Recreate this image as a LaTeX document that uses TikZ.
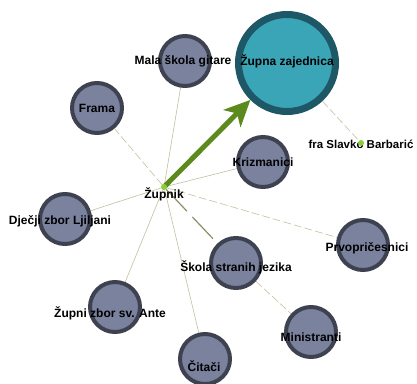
\documentclass[tikz,border=0pt]{standalone}
\usepackage{fontspec}
\setmainfont{Liberation Sans}
\usetikzlibrary{arrows.meta,backgrounds}

\definecolor{member}{RGB}{122,130,158}
\definecolor{memberrim}{RGB}{62,66,80}
\definecolor{parish}{RGB}{58,165,182}
\definecolor{parishrim}{RGB}{30,88,102}
\definecolor{leafgreen}{RGB}{140,204,58}
\definecolor{linkgreen}{RGB}{92,138,30}
\definecolor{linkgray}{RGB}{196,192,160}

\tikzset{
  group/.style={circle, draw=memberrim, fill=member, line width=4pt,
    minimum size=50pt, inner sep=0pt},
  bigroup/.style={circle, draw=parishrim, fill=parish, line width=7pt,
    minimum size=97pt, inner sep=0pt},
  person/.style={circle, fill=leafgreen, minimum size=6pt, inner sep=0pt},
  tag/.style={font=\bfseries\fontsize{12}{14}\selectfont, text=black, inner sep=0pt},
  link/.style={draw=linkgray, line width=0.6pt},
  dlink/.style={link, dash pattern=on 8pt off 3pt},
}

\begin{document}
\begin{tikzpicture}[x=1pt,y=-1pt]
    \useasboundingbox (0,0) rectangle (417,383);

    % groups around the priest
    \node[bigroup] (zajednica) at (287,63) {};
    \node[group] (mala) at (185,61) {};
    \node[group] (frama) at (97,108) {};
    \node[group] (krizmanici) at (263,162) {};
    \node[group] (djecji) at (65,219) {};
    \node[group] (prvo) at (363,245) {};
    \node[group] (skola) at (236,263) {};
    \node[group] (zbor) at (115,307) {};
    \node[group] (ministranti) at (311,332) {};
    \node[group] (citaci) at (205,359) {};

    % names
    \node[tag] (zajednica-t) at (287,61) {Župna zajednica};
    \node[tag] (mala-t) at (183,61) {Mala škola gitare};
    \node[tag] (frama-t) at (97,108) {Frama};
    \node[tag] (krizmanici-t) at (263,162) {Krizmanici};
    \node[tag] (djecji-t) at (60,221) {Dječji zbor Ljiljani};
    \node[tag] (prvo-t) at (367,248) {Prvopričesnici};
    \node[tag] (skola-t) at (236,267) {Škola stranih jezika};
    \node[tag] (zbor-t) at (110,313) {Župni zbor sv. Ante};
    \node[tag] (ministranti-t) at (311,337) {Ministranti};
    \node[tag] (citaci-t) at (204,366) {Čitači};
    \node[tag] (zupnik-t) at (164,194) {Župnik};
    \node[tag, font=\bfseries\fontsize{11.5}{14}\selectfont] (slavko-t) at (361,144) {fra Slavko Barbarić};

    % people
    \node[person] (zupnik) at (164,187) {};
    \node[person] (slavko) at (361,143) {};

    % links
    \begin{scope}[on background layer]
    \fill[white] (0,0) rectangle (417,383);
    \draw[link] (zupnik) -- (mala);
    \draw[dlink] (zupnik) -- (frama);
    \draw[link] (zupnik) -- (djecji);
    \draw[link] (zupnik) -- (zbor);
    \draw[link] (zupnik) -- (citaci);
    \draw[link] (zupnik) -- (krizmanici);
    \draw[dlink] (zupnik) -- (prvo);
    \draw[link, draw=gray!70!olive, line width=1.2pt, dash pattern=on 30pt off 8pt] (zupnik) -- (skola);
    \draw[dlink] (skola) -- (ministranti);
    \draw[dlink] (zajednica) -- (slavko);
    \draw[linkgreen, line width=5pt, -{Stealth[length=26pt,width=24pt,inset=7pt]}] (zupnik.center) -- (zajednica);
    \end{scope}
\end{tikzpicture}
\end{document}
